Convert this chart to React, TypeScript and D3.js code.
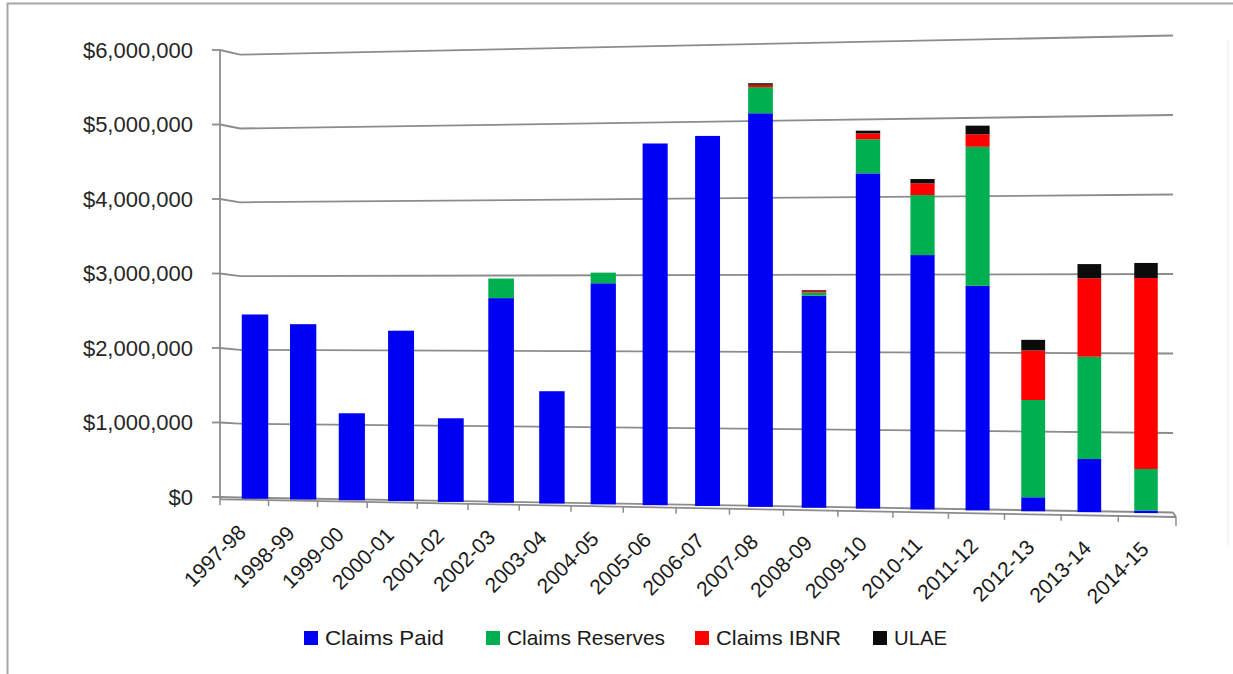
import React from "react";
import * as d3 from "d3";

const categories = ["1997-98","1998-99","1999-00","2000-01","2001-02","2002-03","2003-04","2004-05","2005-06","2006-07","2007-08","2008-09","2009-10","2010-11","2011-12","2012-13","2013-14","2014-15"];
const claimsPaid = [2480000,2350000,1155000,2265000,1100000,2700000,1470000,2895000,4725000,4815000,5100000,2730000,4305000,3250000,2855000,165000,660000,20000];
const claimsReserves = [0,0,0,0,0,260000,0,140000,0,0,340000,40000,440000,770000,1775000,1237000,1295000,523000];
const claimsIBNR = [0,0,0,0,0,0,0,0,0,0,30000,20000,75000,150000,160000,630000,993000,2407000];
const ulae = [0,0,0,0,0,0,0,0,0,0,20000,10000,35000,55000,110000,135000,180000,190000];
const seriesNames = ["Claims Paid","Claims Reserves","Claims IBNR","ULAE"];
const seriesColors = ["#0000f2","#00b050","#ff0000","#0b0b0b"];
const yTicks = [0,1000000,2000000,3000000,4000000,5000000,6000000];

const W = 1233, H = 674;
const FONT = "'Liberation Sans', Arial, sans-serif";

export default function App() {
  const rows = categories.map((c, i) => ({
    cat: c,
    "Claims Paid": claimsPaid[i],
    "Claims Reserves": claimsReserves[i],
    "Claims IBNR": claimsIBNR[i],
    "ULAE": ulae[i],
  }));
  const stacked = d3.stack<any>().keys(seriesNames)(rows);

  // back wall geometry (perspective: left and right edges)
  const backL = 240, backR = 1173, axisX = 220;
  const yBackLeft = d3.scaleLinear().domain([0, 6000000]).range([497.5, 54.7]);
  const yBackRight = d3.scaleLinear().domain([0, 6000000]).range([512.5, 35.5]);
  const yAxisS = d3.scaleLinear().domain([0, 6000000]).range([497, 50]);
  const frac = d3.scaleLinear().domain([backL, backR]).range([0, 1]);
  const yAt = (v: number, x: number) => d3.interpolateNumber(yBackLeft(v), yBackRight(v))(frac(x));

  const band = d3.scaleBand().domain(categories).range([0, categories.length]).padding(0);
  const frontX = (k: number) => 220 + 48.25 * k + 0.27 * k * k;
  const frontYs = d3.scaleLinear().domain([220, 1176]).range([499.3, 517]);
  const barCX = (kc: number) => 255 + 47.89 * (kc - 0.5) + 0.266 * (kc - 0.5) * (kc - 0.5);

  const nK = categories.length;
  const fmt = (v: number) => "$" + d3.format(",")(v);

  const legendX = [304, 486, 695, 873];
  const legendW = [119, 158, 125, 53];

  return (
    <svg width={W} height={H} style={{ position: "absolute", left: 0, top: 0, background: "#fff" }} fontFamily={FONT}>
      <rect x={0} y={0} width={W} height={H} fill="#fff" />
      {/* outer frame */}
      <line x1={7} y1={3.5} x2={W} y2={3.5} stroke="#a6a6a6" strokeWidth={2} />
      <line x1={7.5} y1={3} x2={7.5} y2={H} stroke="#a6a6a6" strokeWidth={2} />
      <line x1={1228} y1={40} x2={1228} y2={545} stroke="#f0f0f0" strokeWidth={1.5} />

      {/* gridlines: tick, side wall, back wall */}
      {yTicks.map((v) => (
        <g key={v} stroke="#8c8c8c" strokeWidth={1.8} fill="none">
          <line x1={212} y1={yAxisS(v)} x2={axisX} y2={yAxisS(v)} />
          <line x1={axisX} y1={yAxisS(v)} x2={backL} y2={yBackLeft(v)} />
          <line x1={backL} y1={yBackLeft(v)} x2={backR} y2={yBackRight(v)} />
        </g>
      ))}
      {/* vertical axis */}
      <line x1={axisX} y1={yAxisS(6000000)} x2={axisX} y2={frontYs(220)} stroke="#8c8c8c" strokeWidth={1.8} />
      {/* floor */}
      <line x1={axisX} y1={frontYs(220)} x2={frontX(nK)} y2={frontYs(frontX(nK))} stroke="#8c8c8c" strokeWidth={1.8} />
      <line x1={backR} y1={yBackRight(0)} x2={frontX(nK)} y2={frontYs(frontX(nK))} stroke="#8c8c8c" strokeWidth={1.8} />
      {d3.range(nK + 1).map((k) => (
        <line key={k} x1={frontX(k)} y1={frontYs(frontX(k))} x2={frontX(k)} y2={frontYs(frontX(k)) + (k === nK ? 9 : 6)} stroke="#8c8c8c" strokeWidth={1.5} />
      ))}

      {/* y labels */}
      {yTicks.map((v) => (
        <text key={v} x={193} y={yAxisS(v)} dy="0.35em" textAnchor="end" fontSize={22} fill="#262626">{fmt(v)}</text>
      ))}

      {/* bars */}
      {stacked.map((s, si) => (
        <g key={s.key} fill={seriesColors[si]}>
          {s.map((d: any, i: number) => {
            if (d[1] - d[0] <= 0) return null;
            const kc = (band(categories[i]) as number) + band.bandwidth() / 2;
            const cx = barCX(kc);
            const w = 26.5 - (3 * i) / (nK - 1);
            const y0 = yAt(d[0], cx) + (d[0] === 0 ? 1 : 0);
            const y1 = yAt(d[1], cx);
            return <rect key={i} x={cx - w / 2} y={y1} width={w} height={Math.max(0.8, y0 - y1)} />;
          })}
        </g>
      ))}

      {/* x labels */}
      {categories.map((c) => {
        const k = (band(c) as number) + band.bandwidth() / 2;
        const x = frontX(k) + 3;
        const y = frontYs(x) + 34;
        return (
          <text key={c} transform={`translate(${x},${y}) rotate(-45)`} textAnchor="end" fontSize={21} fill="#1a1a1a">{c}</text>
        );
      })}

      {/* legend */}
      {seriesNames.map((n, i) => (
        <g key={n}>
          <rect x={legendX[i]} y={631} width={14} height={14} fill={seriesColors[i]} />
          <text x={legendX[i] + 21} y={645} fontSize={21} fill="#1a1a1a" textLength={legendW[i]} lengthAdjust="spacingAndGlyphs">{n}</text>
        </g>
      ))}
    </svg>
  );
}
